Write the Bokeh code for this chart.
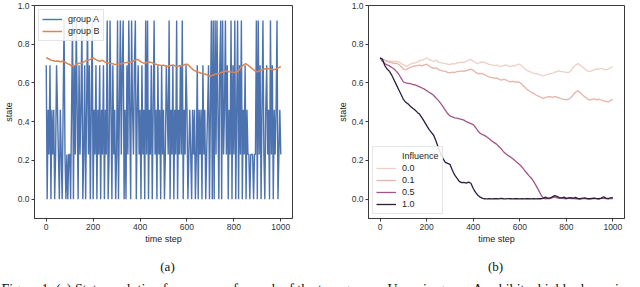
from bokeh.plotting import figure
from bokeh.models import Range1d, FixedTicker, Legend, LegendItem, PrintfTickFormatter
from bokeh.layouts import row, column
from bokeh.core.properties import value
from bokeh.embed import file_html
from bokeh.resources import INLINE

# ---------------- data ----------------
# group A: discrete state levels, sampled every 4 time steps
a_levels = [0.0, 0.231, 0.462, 0.692, 0.923]
a_codes = ("3021302120132102102410101"
           "1024031420312401302413024"
           "0213021302130214014203120"
           "1402413402031420421340231"
           "2031204140213024120312031"
           "2013214021302140213140213"
           "2012102120130212031201230"
           "2404041420340412413021403"
           "1402403140213021101110114"
           "0413024102312041302124012"
           "1")
a_steps = list(range(0, 1001, 4))
group_a = [a_levels[int(c)] for c in a_codes]

# smooth series, sampled every 10 time steps
steps = list(range(0, 1001, 10))
group_b = [0.730, 0.725, 0.718, 0.715, 0.712, 0.713, 0.710, 0.712, 0.708, 0.700, 0.695,
           0.686, 0.690, 0.697, 0.702, 0.703, 0.708, 0.715, 0.718, 0.722, 0.730,
           0.722, 0.715, 0.712, 0.718, 0.708, 0.705, 0.702, 0.700, 0.697, 0.695,
           0.700, 0.698, 0.703, 0.705, 0.707, 0.706, 0.712, 0.718, 0.722, 0.712,
           0.705, 0.700, 0.707, 0.708, 0.705, 0.700, 0.695, 0.693, 0.690, 0.692,
           0.688, 0.685, 0.690, 0.693, 0.688, 0.685, 0.690, 0.688, 0.695, 0.697,
           0.688, 0.675, 0.665, 0.660, 0.655, 0.650, 0.648, 0.645, 0.640, 0.636,
           0.640, 0.645, 0.648, 0.650, 0.655, 0.660, 0.662, 0.658, 0.657, 0.655,
           0.654, 0.662, 0.680, 0.692, 0.700, 0.692, 0.682, 0.672, 0.662, 0.658,
           0.664, 0.668, 0.673, 0.672, 0.675, 0.670, 0.668, 0.672, 0.678, 0.685]
infl_01 = [0.730, 0.722, 0.715, 0.712, 0.708, 0.705, 0.700, 0.702, 0.695, 0.685, 0.672,
           0.668, 0.675, 0.680, 0.685, 0.688, 0.690, 0.692, 0.688, 0.693, 0.697,
           0.688, 0.680, 0.675, 0.678, 0.670, 0.665, 0.662, 0.660, 0.655, 0.652,
           0.656, 0.654, 0.658, 0.660, 0.662, 0.660, 0.664, 0.668, 0.672, 0.665,
           0.655, 0.648, 0.650, 0.648, 0.642, 0.636, 0.630, 0.628, 0.625, 0.626,
           0.620, 0.615, 0.618, 0.616, 0.610, 0.606, 0.608, 0.604, 0.606, 0.603,
           0.592, 0.580, 0.568, 0.560, 0.552, 0.545, 0.538, 0.532, 0.526, 0.520,
           0.524, 0.528, 0.530, 0.526, 0.530, 0.527, 0.522, 0.518, 0.515, 0.513,
           0.516, 0.525, 0.540, 0.552, 0.560, 0.550, 0.538, 0.528, 0.518, 0.512,
           0.515, 0.518, 0.513, 0.516, 0.512, 0.508, 0.505, 0.502, 0.510, 0.515]
infl_05 = [0.730, 0.712, 0.700, 0.693, 0.688, 0.680, 0.672, 0.660, 0.645, 0.625, 0.605,
           0.600, 0.598, 0.596, 0.592, 0.590, 0.585, 0.580, 0.574, 0.568, 0.560,
           0.552, 0.545, 0.535, 0.522, 0.510, 0.495, 0.478, 0.460, 0.442, 0.430,
           0.425, 0.420, 0.418, 0.415, 0.412, 0.408, 0.400, 0.395, 0.390, 0.385,
           0.370, 0.352, 0.340, 0.333, 0.328, 0.320, 0.310, 0.300, 0.292, 0.284,
           0.272, 0.260, 0.245, 0.235, 0.225, 0.218, 0.208, 0.198, 0.188, 0.178,
           0.165, 0.150, 0.135, 0.120, 0.108, 0.090, 0.070, 0.048, 0.025, 0.005,
           0.002, 0.004, 0.003, 0.008, 0.012, 0.006, 0.004, 0.008, 0.003, 0.002,
           0.005, 0.003, 0.004, 0.002, 0.003, 0.002, 0.004, 0.003, 0.002, 0.003,
           0.002, 0.004, 0.003, 0.002, 0.005, 0.004, 0.003, 0.002, 0.004, 0.003]
infl_10 = [0.730, 0.722, 0.690, 0.672, 0.660, 0.640, 0.615, 0.590, 0.565, 0.540, 0.515,
           0.500, 0.492, 0.480, 0.470, 0.460, 0.448, 0.438, 0.420, 0.400, 0.380,
           0.360, 0.345, 0.330, 0.300, 0.265, 0.235, 0.210, 0.190, 0.185, 0.180,
           0.150, 0.125, 0.108, 0.092, 0.085, 0.086, 0.083, 0.088, 0.082, 0.055,
           0.035, 0.020, 0.010, 0.004, 0.002, 0.001, 0.002, 0.001, 0.002, 0.003,
           0.001, 0.004, 0.002, 0.001, 0.003, 0.002, 0.001, 0.003, 0.002, 0.001,
           0.002, 0.001, 0.003, 0.002, 0.001, 0.002, 0.001, 0.003, 0.002, 0.004,
           0.010, 0.004, 0.006, 0.012, 0.018, 0.014, 0.008, 0.005, 0.010, 0.004,
           0.006, 0.008, 0.004, 0.009, 0.003, 0.002, 0.004, 0.006, 0.003, 0.002,
           0.004, 0.005, 0.003, 0.002, 0.004, 0.012, 0.005, 0.003, 0.006, 0.008]
influence_labels = ["0.0", "0.1", "0.5", "1.0"]
x_ticks = [0, 200, 400, 600, 800, 1000]
y_ticks = [0.0, 0.2, 0.4, 0.6, 0.8, 1.0]
sub_captions = ["(a)", "(b)"]
caption = ("Figure 1: (a) State evolution for one user for each of the two groups. "
           "Users in group A exhibit a highly dynamic")

# ---------------- styling ----------------
SANS = "Liberation Sans"
SERIF = "Liberation Serif"
DARK = "#3a3a3a"
H = 250
TOP, BOTTOM = 5, 32
X0, X1, Y0, Y1 = -50, 1050, -0.1, 1.0


def make_fig(width, left, right):
    p = figure(width=width, height=H, output_backend="svg", toolbar_location=None,
               x_range=Range1d(X0, X1), y_range=Range1d(Y0, Y1),
               min_border_left=left, min_border_right=right,
               min_border_top=TOP, min_border_bottom=BOTTOM)
    p.xgrid.visible = False
    p.ygrid.visible = False
    p.outline_line_color = DARK
    p.outline_line_width = 1
    p.background_fill_color = "white"
    p.border_fill_color = "white"
    p.xaxis.ticker = FixedTicker(ticks=x_ticks)
    p.yaxis.ticker = FixedTicker(ticks=y_ticks)
    p.yaxis.formatter = PrintfTickFormatter(format="%.1f")
    p.xaxis.axis_label = "time step"
    p.yaxis.axis_label = "state"
    for ax in (p.xaxis[0], p.yaxis[0]):
        ax.axis_line_color = DARK
        ax.major_tick_line_color = DARK
        ax.major_tick_out = 3
        ax.major_tick_in = 0
        ax.minor_tick_line_color = None
        ax.major_label_text_font = SANS
        ax.major_label_text_font_size = "8.5px"
        ax.major_label_text_color = "#333333"
        ax.major_label_standoff = 2
        ax.axis_label_text_font = SANS
        ax.axis_label_text_font_size = "9px"
        ax.axis_label_text_font_style = "normal"
        ax.axis_label_text_color = "#222222"
        ax.axis_label_standoff = 1
    return p


def style_legend(lg):
    lg.label_text_font = SANS
    lg.label_text_font_size = "9px"
    lg.label_text_color = "#262626"
    lg.glyph_width = 20
    lg.glyph_height = 12
    lg.label_height = 12
    lg.label_standoff = 6
    lg.spacing = 0
    lg.padding = 3
    lg.margin = 4
    lg.border_line_color = "#cccccc"
    lg.border_line_width = 1
    lg.background_fill_alpha = 0.85


# ---------------- panel (a) ----------------
W1, L1, R1 = 320, 34, 28
p1 = make_fig(W1, L1, R1)
ra = p1.line(a_steps, group_a, line_color="#4c72b0", line_width=1.4)
rb = p1.line(steps, group_b, line_color="#dd8452", line_width=1.5)
lg1 = Legend(items=[LegendItem(label="group A", renderers=[ra]),
                    LegendItem(label="group B", renderers=[rb])],
             location="top_left")
style_legend(lg1)
p1.add_layout(lg1)

# ---------------- panel (b) ----------------
W2, L2, R2 = 320, 48, 16
p2 = make_fig(W2, L2, R2)
colors = ["#efcfc7", "#e6b4a9", "#a0568a", "#2d1e3e"]
title_r = p2.line([], [], line_alpha=0)
rs = []
for ys, c in zip([group_b, infl_01, infl_05, infl_10], colors):
    rs.append(p2.line(steps, ys, line_color=c, line_width=1.3))
items = [LegendItem(label="Influence", renderers=[title_r])]
items += [LegendItem(label=lab, renderers=[r]) for lab, r in zip(influence_labels, rs)]
lg2 = Legend(items=items, location="bottom_left")
style_legend(lg2)
p2.add_layout(lg2)

# ---------------- caption strip (pixel-like coordinates, y downwards) ----------------
SW, SH = 640, 37
strip = figure(width=SW, height=SH, output_backend="svg", toolbar_location=None,
               x_range=Range1d(0, SW), y_range=Range1d(SH, 0),
               x_axis_type=None, y_axis_type=None, min_border=0)
strip.outline_line_color = None
strip.xgrid.visible = False
strip.ygrid.visible = False
strip.text(x=[167, 495], y=[15.5, 15.5], text=sub_captions,
           text_font=value(SERIF), text_font_size="13px", text_color="#111111",
           text_align="center", text_baseline="middle")
strip.text(x=[1], y=[39], text=[caption],
           text_font=value(SERIF), text_font_size="14px", text_color="#111111",
           text_align="left", text_baseline="alphabetic")

layout = column(row(p1, p2), strip)
open("out.html", "w").write(file_html(layout, INLINE))
